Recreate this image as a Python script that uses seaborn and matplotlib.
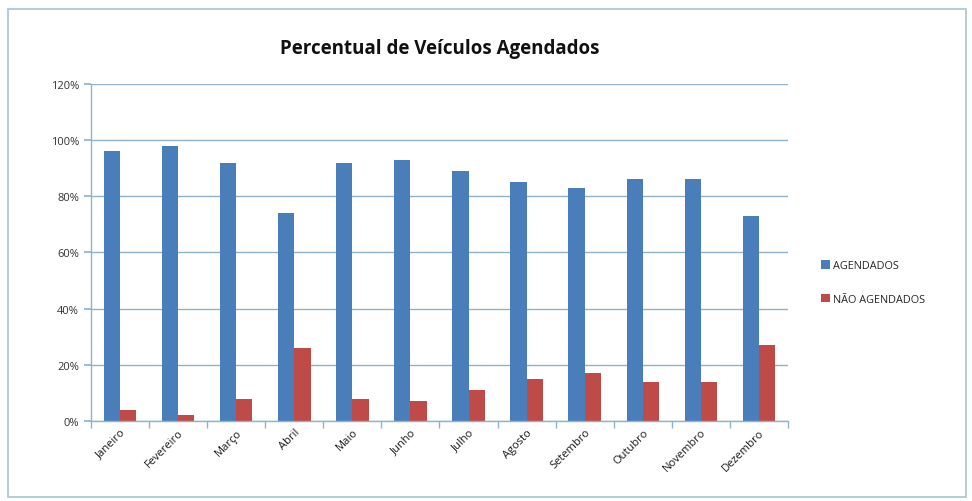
import pandas as pd
import matplotlib.pyplot as plt
import seaborn as sns
from matplotlib.patches import Rectangle
from matplotlib.ticker import PercentFormatter, FixedLocator

# Values (percent)
meses = ['Janeiro', 'Fevereiro', 'Março', 'Abril', 'Maio', 'Junho',
         'Julho', 'Agosto', 'Setembro', 'Outubro', 'Novembro', 'Dezembro']
agendados = [96, 98, 92, 74, 92, 93, 89, 85, 83, 86, 86, 73]
nao_agendados = [4, 2, 8, 26, 8, 7, 11, 15, 17, 14, 14, 27]
series = ['AGENDADOS', 'NÃO AGENDADOS']

df = pd.DataFrame({
    'Mes': meses * 2,
    'Serie': [series[0]] * len(meses) + [series[1]] * len(meses),
    'Valor': agendados + nao_agendados,
})

sns.set_theme(style="white")
plt.rcParams['font.family'] = ['Open Sans', 'DejaVu Sans']

grid_col = '#8fb3c9'
fig = plt.figure(figsize=(9.72, 5.02), dpi=100)
ax = fig.add_axes([0.0936, 0.1594, 0.7171, 0.6713])

sns.barplot(data=df, x='Mes', y='Valor', hue='Serie', order=meses,
            hue_order=series, palette=['#4a7ebb', '#be4b48'],
            width=0.56, gap=0, saturation=1, linewidth=0,
            edgecolor='none', ax=ax)

ax.set_ylim(0, 120)
ax.set_xlim(-0.5, len(meses) - 0.5)
ax.yaxis.set_major_formatter(PercentFormatter(decimals=0))
ax.set_yticks(range(0, 121, 20))
ax.yaxis.grid(True, color=grid_col, linewidth=1)
ax.set_axisbelow(True)
ax.set_xlabel('')
ax.set_ylabel('')

for s in ['top', 'right']:
    ax.spines[s].set_visible(False)
for s in ['left', 'bottom']:
    ax.spines[s].set_color(grid_col)
    ax.spines[s].set_linewidth(1)

ax.xaxis.set_minor_locator(FixedLocator([i - 0.5 for i in range(len(meses) + 1)]))
ax.tick_params(axis='x', which='major', length=0, labelsize=8, pad=4)
ax.tick_params(axis='x', which='minor', length=5, color=grid_col, bottom=True)
ax.tick_params(axis='y', length=5, color=grid_col, left=True, labelsize=8,
               labelcolor='#333333')
plt.setp(ax.get_xticklabels(), rotation=45, ha='right', rotation_mode='anchor',
         color='#1a1a1a')

ax.set_title('Percentual de Veículos Agendados', fontsize=13.5,
             fontweight='bold', pad=22, color='#111111')

handles, labels = ax.get_legend_handles_labels()
ax.legend_.remove()
fig.legend(handles, labels, loc='center left', bbox_to_anchor=(0.835, 0.435),
           frameon=False, fontsize=7.8, handlelength=0.8, handleheight=0.8,
           handletextpad=0.3, labelspacing=2.1)

fig.patches.append(Rectangle((0.008, 0.008), 0.986, 0.972,
                             transform=fig.transFigure, fill=False,
                             edgecolor='#a9c4d4', linewidth=1.2))

fig.savefig('out.png', dpi=100)
